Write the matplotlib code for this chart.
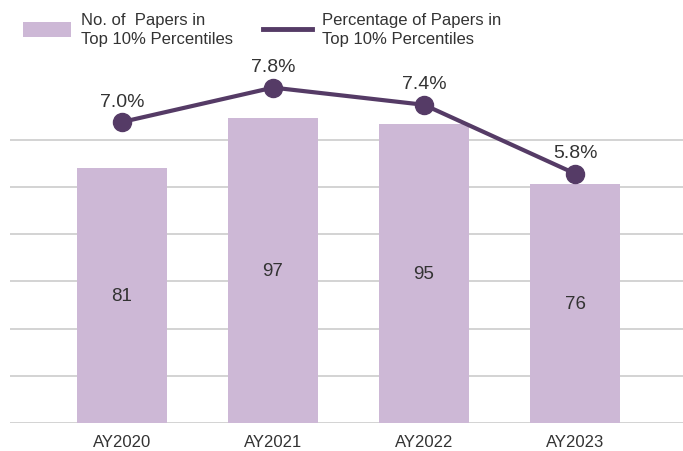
import matplotlib.pyplot as plt
from matplotlib.patches import Patch
from matplotlib.lines import Line2D

plt.rcParams['font.family'] = ['Liberation Sans', 'DejaVu Sans']

years = ['AY2020', 'AY2021', 'AY2022', 'AY2023']
papers = [81, 97, 95, 76]
percent = [7.0, 7.8, 7.4, 5.8]

bar_color = '#CDB8D6'
line_color = '#553B66'

fig = plt.figure(figsize=(6.83, 4.52), dpi=100)
ax = fig.add_axes([10 / 683, 1 - 424 / 452, 673 / 683, 364 / 452])
x = list(range(len(years)))

ax.bar(x, papers, width=0.6, color=bar_color, zorder=2)
for xi, v in zip(x, papers):
    ax.text(xi, v / 2, str(v), ha='center', va='center', fontsize=13.5, color='#333333', zorder=3)

ax.set_xlim(-0.742, 3.715)
ax.set_ylim(0, 115.7)
ax.set_yticks([0, 15, 30, 45, 60, 75, 90])
ax.yaxis.grid(True, color='#CCCCCC', linewidth=1.2, zorder=0)
ax.set_yticklabels([])
ax.tick_params(axis='y', length=0)
ax.set_xticks(x)
ax.set_xticklabels(years, fontsize=12, color='#333333')
ax.tick_params(axis='x', length=0, pad=8)
for s in ax.spines.values():
    s.set_visible(False)

ax2 = ax.twinx()
ax2.plot(x, percent, color=line_color, linewidth=3, marker='o', markersize=13, zorder=4)
for xi, p in zip(x, percent):
    ax2.annotate(f'{p:.1f}%', (xi, p), xytext=(0, 15), textcoords='offset points',
                 ha='center', va='center', fontsize=14, color='#333333')
ax2.set_ylim(0, 8.465)
ax2.set_yticks([])
for s in ax2.spines.values():
    s.set_visible(False)

handles = [Patch(facecolor=bar_color, edgecolor='none'),
           Line2D([0], [0], color=line_color, linewidth=3.5)]
labels = ['No. of  Papers in\nTop 10% Percentiles', 'Percentage of Papers in\nTop 10% Percentiles']
leg = fig.legend(handles, labels, loc='upper left', bbox_to_anchor=(8 / 683, 1 + 2 / 452), ncol=2,
                 frameon=False, fontsize=12, handlelength=2.9, handleheight=1.0,
                 handletextpad=0.6, columnspacing=1.8, labelcolor='#333333')
for t in leg.get_texts():
    t.set_linespacing(1.35)

fig.savefig('out.png', dpi=100)
